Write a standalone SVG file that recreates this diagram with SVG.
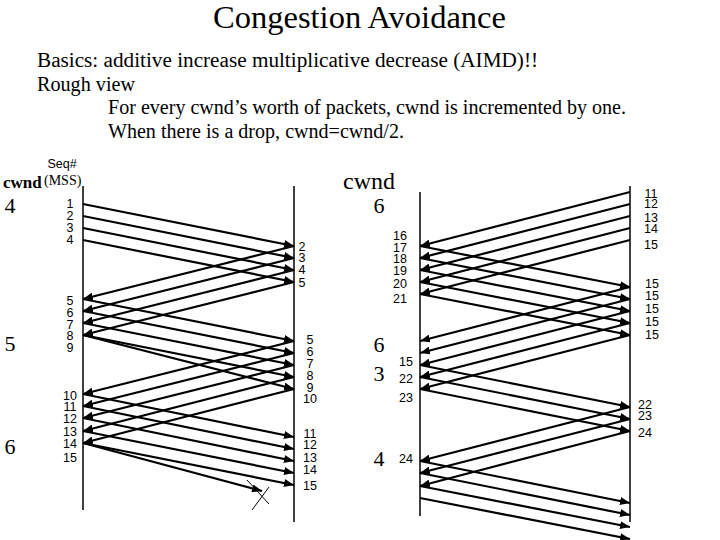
<svg xmlns="http://www.w3.org/2000/svg" width="720" height="540" viewBox="0 0 720 540">
<style>
.serif{font-family:"Liberation Serif","Times New Roman",serif;fill:#000}
.sans{font-family:"Liberation Sans",Arial,sans-serif;fill:#000;font-size:12.5px;text-anchor:middle}
.tl{stroke:#000;stroke-width:1.5;fill:none}
.pk{stroke:#000;stroke-width:2.2;fill:none}
.ar{marker-end:url(#ah)}
.x{stroke:#000;stroke-width:1;fill:none}
</style>
<defs>
<marker id="ah" markerWidth="10" markerHeight="8" refX="10" refY="4" orient="auto" markerUnits="userSpaceOnUse"><path d="M0,0 L10,4 L0,8 z" fill="#000"/></marker>
</defs>
<rect width="720" height="540" fill="#fff"/>
<g id="title"><text class="serif" x="213" y="28" font-size="31" textLength="293" lengthAdjust="spacingAndGlyphs">Congestion Avoidance</text></g>
<g id="body">
<text class="serif" x="37" y="67" font-size="20.5" textLength="501" lengthAdjust="spacingAndGlyphs">Basics: additive increase multiplicative decrease (AIMD)!!</text>
<text class="serif" x="37" y="91" font-size="20.5" textLength="98" lengthAdjust="spacingAndGlyphs">Rough view</text>
<text class="serif" x="108" y="114" font-size="20.5" textLength="518" lengthAdjust="spacingAndGlyphs">For every cwnd’s worth of packets, cwnd is incremented by one.</text>
<text class="serif" x="108" y="138" font-size="20.5" textLength="296" lengthAdjust="spacingAndGlyphs">When there is a drop, cwnd=cwnd/2.</text>
</g>
<g id="timelines">
<line class="tl" x1="83" y1="186" x2="83" y2="510"/>
<line class="tl" x1="294" y1="186" x2="294" y2="522"/>
<line class="tl" x1="420" y1="192" x2="420" y2="516"/>
<line class="tl" x1="630" y1="186" x2="630" y2="522"/>
</g>
<g id="left-labels">
<text class="sans" x="62" y="168" font-size="13">Seq#</text>
<text class="serif" x="44" y="185" font-size="14">(MSS)</text>
<text class="serif" x="3" y="188" font-size="17" font-weight="bold">cwnd</text>
<text class="serif" x="10" y="213" font-size="22" text-anchor="middle">4</text>
<text class="serif" x="10" y="351" font-size="22" text-anchor="middle">5</text>
<text class="serif" x="10" y="454" font-size="22" text-anchor="middle">6</text>
<text class="sans" x="70" y="208">1</text>
<text class="sans" x="70" y="220">2</text>
<text class="sans" x="70" y="232">3</text>
<text class="sans" x="70" y="244">4</text>
<text class="sans" x="70" y="305">5</text>
<text class="sans" x="70" y="317">6</text>
<text class="sans" x="70" y="329">7</text>
<text class="sans" x="70" y="340">8</text>
<text class="sans" x="70" y="352">9</text>
<text class="sans" x="70" y="400">10</text>
<text class="sans" x="70" y="411">11</text>
<text class="sans" x="70" y="423">12</text>
<text class="sans" x="70" y="436">13</text>
<text class="sans" x="70" y="448">14</text>
<text class="sans" x="70" y="462">15</text>
<text class="sans" x="302" y="251">2</text>
<text class="sans" x="302" y="262">3</text>
<text class="sans" x="302" y="274">4</text>
<text class="sans" x="302" y="287">5</text>
<text class="sans" x="310" y="344">5</text>
<text class="sans" x="310" y="356">6</text>
<text class="sans" x="310" y="368">7</text>
<text class="sans" x="310" y="380">8</text>
<text class="sans" x="310" y="392">9</text>
<text class="sans" x="310" y="403">10</text>
<text class="sans" x="310" y="438">11</text>
<text class="sans" x="310" y="449">12</text>
<text class="sans" x="310" y="462">13</text>
<text class="sans" x="310" y="474">14</text>
<text class="sans" x="310" y="490">15</text>
</g>
<g id="right-labels">
<text class="serif" x="369" y="189" font-size="24" text-anchor="middle">cwnd</text>
<text class="serif" x="379" y="213" font-size="22" text-anchor="middle">6</text>
<text class="serif" x="379" y="352" font-size="22" text-anchor="middle">6</text>
<text class="serif" x="379" y="381" font-size="22" text-anchor="middle">3</text>
<text class="serif" x="379" y="466" font-size="22" text-anchor="middle">4</text>
<text class="sans" x="400" y="240">16</text>
<text class="sans" x="400" y="252">17</text>
<text class="sans" x="400" y="263">18</text>
<text class="sans" x="400" y="275">19</text>
<text class="sans" x="400" y="288">20</text>
<text class="sans" x="400" y="303">21</text>
<text class="sans" x="406" y="366">15</text>
<text class="sans" x="406" y="383">22</text>
<text class="sans" x="406" y="402">23</text>
<text class="sans" x="406" y="463">24</text>
<text class="sans" x="651" y="198">11</text>
<text class="sans" x="651" y="208">12</text>
<text class="sans" x="651" y="222">13</text>
<text class="sans" x="651" y="233">14</text>
<text class="sans" x="651" y="249">15</text>
<text class="sans" x="652" y="288">15</text>
<text class="sans" x="652" y="300">15</text>
<text class="sans" x="652" y="313">15</text>
<text class="sans" x="652" y="326">15</text>
<text class="sans" x="652" y="339">15</text>
<text class="sans" x="645" y="409">22</text>
<text class="sans" x="645" y="420">23</text>
<text class="sans" x="645" y="437">24</text>
</g>
<g id="connectors">
<line class="pk ar" x1="83" y1="204" x2="294" y2="246"/>
<line class="pk ar" x1="83" y1="216" x2="294" y2="258"/>
<line class="pk ar" x1="83" y1="228" x2="294" y2="270"/>
<line class="pk ar" x1="83" y1="240" x2="294" y2="282"/>
<line class="pk ar" x1="294" y1="246" x2="83" y2="299"/>
<line class="pk ar" x1="294" y1="258" x2="83" y2="311"/>
<line class="pk ar" x1="294" y1="270" x2="83" y2="323"/>
<line class="pk ar" x1="294" y1="282" x2="83" y2="335"/>
<line class="pk ar" x1="83" y1="299" x2="294" y2="341"/>
<line class="pk ar" x1="83" y1="311" x2="294" y2="353"/>
<line class="pk ar" x1="83" y1="323" x2="294" y2="365"/>
<line class="pk ar" x1="83" y1="335" x2="294" y2="377"/>
<line class="pk ar" x1="83" y1="335" x2="294" y2="389"/>
<line class="pk ar" x1="294" y1="341" x2="83" y2="394"/>
<line class="pk ar" x1="294" y1="353" x2="83" y2="406"/>
<line class="pk ar" x1="294" y1="365" x2="83" y2="418"/>
<line class="pk ar" x1="294" y1="377" x2="83" y2="431"/>
<line class="pk ar" x1="294" y1="389" x2="83" y2="443"/>
<line class="pk ar" x1="83" y1="394" x2="294" y2="437"/>
<line class="pk ar" x1="83" y1="406" x2="294" y2="449"/>
<line class="pk ar" x1="83" y1="418" x2="294" y2="461"/>
<line class="pk ar" x1="83" y1="431" x2="294" y2="473"/>
<line class="pk ar" x1="83" y1="443" x2="294" y2="485"/>
<line class="pk ar" x1="83" y1="443" x2="262" y2="491"/>
<line class="x" x1="247" y1="480" x2="269" y2="504"/>
<line class="x" x1="252" y1="510" x2="269" y2="487"/>
<line class="pk ar" x1="630" y1="192" x2="420" y2="246"/>
<line class="pk ar" x1="630" y1="204" x2="420" y2="258"/>
<line class="pk ar" x1="630" y1="216" x2="420" y2="270"/>
<line class="pk ar" x1="630" y1="228" x2="420" y2="282"/>
<line class="pk ar" x1="630" y1="240" x2="420" y2="294"/>
<line class="pk ar" x1="420" y1="246" x2="630" y2="287"/>
<line class="pk ar" x1="420" y1="258" x2="630" y2="299"/>
<line class="pk ar" x1="420" y1="270" x2="630" y2="311"/>
<line class="pk ar" x1="420" y1="282" x2="630" y2="323"/>
<line class="pk ar" x1="420" y1="294" x2="630" y2="335"/>
<line class="pk ar" x1="630" y1="287" x2="420" y2="341"/>
<line class="pk ar" x1="630" y1="299" x2="420" y2="353"/>
<line class="pk ar" x1="630" y1="311" x2="420" y2="365"/>
<line class="pk ar" x1="630" y1="323" x2="420" y2="377"/>
<line class="pk ar" x1="630" y1="335" x2="420" y2="389"/>
<line class="pk ar" x1="420" y1="365" x2="630" y2="407"/>
<line class="pk ar" x1="420" y1="377" x2="630" y2="419"/>
<line class="pk ar" x1="420" y1="389" x2="630" y2="431"/>
<line class="pk ar" x1="630" y1="407" x2="420" y2="461"/>
<line class="pk ar" x1="630" y1="419" x2="420" y2="473"/>
<line class="pk ar" x1="630" y1="431" x2="420" y2="486"/>
<line class="pk ar" x1="420" y1="461" x2="630" y2="503"/>
<line class="pk ar" x1="420" y1="473" x2="630" y2="515"/>
<line class="pk ar" x1="420" y1="486" x2="630" y2="527"/>
<line class="pk ar" x1="420" y1="498" x2="630" y2="539"/>
</g>
</svg>
